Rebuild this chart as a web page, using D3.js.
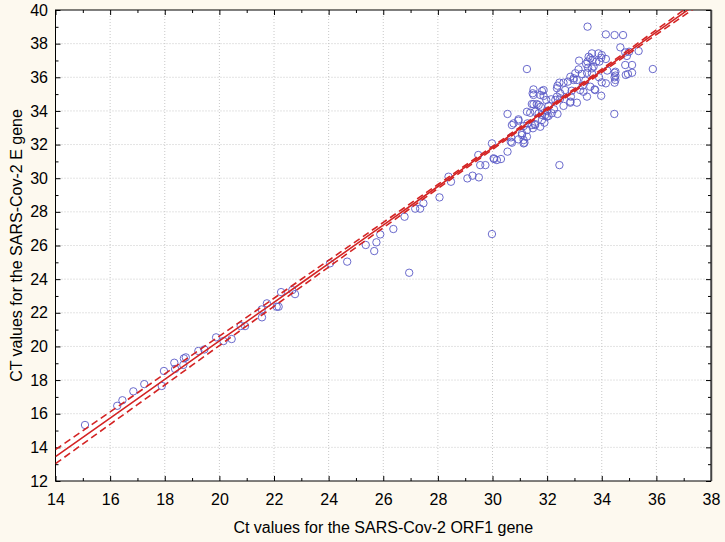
<!DOCTYPE html>
<html>
<head>
<meta charset="utf-8">
<script src="https://cdn.jsdelivr.net/npm/d3@7"></script>
<style>
  body { margin: 0; background: #fdf9ef; }
  text { font-family: "Liberation Sans", Arial, sans-serif; fill: #000; }
</style>
</head>
<body>
<svg id="chart"></svg>
<script>
var width = 725;
var height = 542;

var margin = {
    top: 10,
    right: 14,
    bottom: 61,
    left: 55.5
};

var chartWidth = width - margin.left - margin.right;
var chartHeight = height - margin.top - margin.bottom;

// axis ticks
var xTicks = [14, 16, 18, 20, 22, 24, 26, 28, 30, 32, 34, 36, 38];
var yTicks = [12, 14, 16, 18, 20, 22, 24, 26, 28, 30, 32, 34, 36, 38, 40];

// Ct values, ORF1 gene (x) and E gene (y)
var orf1 = [15.08, 16.26, 16.45, 16.85, 17.25, 17.89, 17.97, 18.35, 18.38, 18.7, 18.77, 18.68, 19.23, 19.45, 19.88,
    20.15, 20.45, 20.78, 20.94, 21.56, 21.55, 21.74, 22.1, 22.17, 22.26, 22.67, 22.77, 24.05, 24.68, 25.36,
    25.67, 25.75, 25.89, 26.37, 26.95, 26.78, 27.17, 27.35, 27.47, 28.06, 28.39, 28.48, 29.08, 29.27, 29.5,
    29.48, 29.55, 29.74, 29.98, 30.06, 30.16, 30.31, 30.55, 32.45, 29.98, 30.04,
    30.55, 30.67, 30.68, 30.71, 30.77, 30.95, 31.08, 31.17, 31.26, 31.26, 31.44, 31.48, 31.56, 31.69, 31.75,
    31.81, 31.93, 32.05, 32.38, 32.85, 33.09, 34.46, 33.48, 34.15, 34.47, 34.78, 34.68, 35.35, 31.26, 35.87,
    34.86, 35.11, 34.88, 35.11, 34.47, 34.47, 34.47, 34.15, 33.98, 33.74, 33.64, 33.88, 34.0, 33.58, 33.8,
    33.91, 33.17, 33.43, 33.15, 33.27, 33.46, 33.64, 33.03, 32.85, 32.97, 33.09, 32.76, 32.6, 32.45, 32.36,
    32.15, 31.97, 31.5, 31.5, 31.87, 31.87, 31.62, 31.5, 31.77, 32.05, 32.3, 32.48, 32.85, 32.87, 33.21,
    33.33, 33.46, 33.58, 30.95, 31.08, 31.14, 34.92, 35.0, 34.86, 34.96, 34.5, 34.5, 34.5, 33.76, 33.98,
    33.66, 33.7, 34.15, 33.5, 33.64, 31.47, 31.81, 32.38, 32.97, 33.48, 33.52, 32.66, 31.69, 31.75, 32.36,
    32.48, 31.38, 31.56, 31.81, 31.99, 32.17, 31.56, 31.44, 31.26, 31.14, 30.95, 30.71, 31.28, 31.14,
    32.25, 32.6, 32.9, 33.3, 33.9, 34.2, 32.0, 31.9, 33.4, 34.0];

var eGene = [15.33, 16.47, 16.8, 17.33, 17.76, 17.65, 18.54, 19.03, 18.66, 19.29, 19.35, 18.9, 19.73, 19.82, 20.54,
    20.32, 20.44, 21.21, 21.21, 21.73, 22.2, 22.56, 22.36, 22.36, 23.23, 23.35, 23.11, 24.94, 25.04, 26.03,
    25.67, 26.19, 26.66, 26.98, 24.38, 27.71, 28.19, 28.19, 28.51, 28.86, 30.09, 29.79, 29.99, 30.15, 30.05,
    31.38, 30.78, 30.78, 26.68, 31.14, 31.08, 31.14, 31.58, 30.78, 32.07, 31.18,
    33.82, 32.17, 32.43, 33.16, 33.26, 33.42, 32.67, 32.11, 32.47, 33.95, 34.41, 32.97, 33.22, 33.86, 33.06,
    33.46, 33.76, 33.7, 33.82, 34.49, 34.49, 33.82, 39.01, 38.55, 38.51, 38.51, 37.78, 37.56, 36.49, 36.49,
    36.73, 36.73, 36.14, 36.27, 36.27, 36.0, 35.68, 35.64, 34.9, 35.28, 37.42, 37.42, 37.32, 37.13, 36.93,
    36.93, 36.99, 36.79, 36.47, 36.2, 36.27, 36.53, 36.24, 36.03, 35.84, 35.84, 35.74, 35.68, 35.68, 35.35,
    34.69, 34.65, 35.28, 34.95, 35.24, 34.89, 34.41, 34.4, 34.25, 34.29, 34.65, 34.75, 34.55, 34.85, 35.24,
    35.14, 34.85, 35.44, 33.5, 32.57, 32.07, 37.27, 37.52, 37.48, 36.2, 36.33, 36.1, 35.84, 35.24, 37.16,
    37.03, 36.63, 37.09, 36.57, 36.24, 35.05, 35.18, 35.5, 35.94, 36.93, 37.22, 35.24, 34.35, 34.95, 34.85,
    35.05, 33.89, 33.95, 33.76, 33.66, 33.86, 33.16, 33.16, 32.86, 32.27, 32.31, 32.11, 33.26, 33.1,
    34.1, 34.3, 35.2, 35.5, 36.0, 36.4, 34.0, 33.3, 35.8, 35.7];

// regression line and 95% band
var fitIntercept = -2.61;
var fitSlope = 1.147;
var bandX = [14, 16, 18, 20, 22, 24, 26, 28, 30, 32, 34, 36, 38];
var bandHalf = [0.42, 0.37, 0.33, 0.28, 0.24, 0.2, 0.16, 0.12, 0.09, 0.08, 0.1, 0.14, 0.2];

var points = orf1.map(function(d, i) {
    return { x: d, y: eGene[i] };
});

var svg = d3.select("#chart")
    .attr("width", width)
    .attr("height", height);

svg.append("rect")
    .attr("width", width)
    .attr("height", height)
    .attr("fill", "#fdf9ef");

var xScale = d3.scaleLinear()
    .domain([14, 38])
    .range([0, chartWidth]);

var yScale = d3.scaleLinear()
    .domain([12, 40])
    .range([chartHeight, 0]);

var g = svg.append("g")
    .attr("transform", "translate(" + margin.left + "," + margin.top + ")");

g.append("rect")
    .attr("width", chartWidth)
    .attr("height", chartHeight)
    .attr("fill", "white");

g.append("clipPath")
    .attr("id", "plotClip")
    .append("rect")
    .attr("width", chartWidth)
    .attr("height", chartHeight);

// grid
g.append("g").selectAll("line")
    .data(xTicks.slice(1, -1))
    .enter().append("line")
    .attr("x1", xScale).attr("x2", xScale)
    .attr("y1", 0).attr("y2", chartHeight)
    .attr("stroke", "#c8c8c8")
    .attr("stroke-dasharray", "1,2");

g.append("g").selectAll("line")
    .data(yTicks.slice(1, -1))
    .enter().append("line")
    .attr("y1", yScale).attr("y2", yScale)
    .attr("x1", 0).attr("x2", chartWidth)
    .attr("stroke", "#c8c8c8")
    .attr("stroke-dasharray", "1,2");

// ticks point inwards; minor ticks every unit
var xMinor = d3.range(15, 38, 2);
var yMinor = d3.range(13, 40, 2);

function drawAxis(axis, pos, major, minor, pad) {
    var minorG = g.append("g")
        .attr("transform", pos)
        .call(axis.tickValues(minor).tickSize(-3).tickFormat(""));
    minorG.select(".domain").remove();

    var majorG = g.append("g")
        .attr("transform", pos)
        .call(axis.tickValues(major).tickSize(-5).tickPadding(pad)
            .tickFormat(pad ? d3.format("d") : ""));
    majorG.select(".domain").remove();
    majorG.selectAll("text")
        .style("font-size", "16px")
        .attr("fill", "#000");
}

drawAxis(d3.axisBottom(xScale), "translate(0," + chartHeight + ")", xTicks, xMinor, 12.5);
drawAxis(d3.axisTop(xScale), "translate(0,0)", xTicks, xMinor, 0);
drawAxis(d3.axisLeft(yScale), "translate(0,0)", yTicks, yMinor, 7.5);
drawAxis(d3.axisRight(yScale), "translate(" + chartWidth + ",0)", yTicks, yMinor, 0);

g.append("rect")
    .attr("width", chartWidth)
    .attr("height", chartHeight)
    .attr("fill", "none")
    .attr("stroke", "#000")
    .attr("stroke-width", 1);

g.append("line")
    .attr("x1", chartWidth + 0.5).attr("x2", chartWidth + 0.5)
    .attr("y1", 0).attr("y2", chartHeight)
    .attr("stroke", "#444")
    .attr("stroke-width", 1.5);

// points
g.append("g").selectAll("circle")
    .data(points)
    .enter().append("circle")
    .attr("cx", function(d) { return xScale(d.x); })
    .attr("cy", function(d) { return yScale(d.y); })
    .attr("r", 3.7)
    .attr("fill", "none")
    .attr("stroke", "#5a5ac6")
    .attr("stroke-width", 0.9);

// regression line and confidence band
var fit = function(x) { return fitIntercept + fitSlope * x; };

var fitLine = d3.line()
    .x(function(d) { return xScale(d.x); })
    .y(function(d) { return yScale(d.y); })
    .curve(d3.curveMonotoneX);

var lines = g.append("g").attr("clip-path", "url(#plotClip)");

var bands = [
    { off: 0, dash: null },
    { off: 1, dash: "7,4" },
    { off: -1, dash: "7,4" }
];

bands.forEach(function(b) {
    lines.append("path")
        .datum(bandX.map(function(x, i) {
            return { x: x, y: fit(x) + b.off * bandHalf[i] };
        }))
        .attr("d", fitLine)
        .attr("fill", "none")
        .attr("stroke", "#d42424")
        .attr("stroke-width", 1.6)
        .attr("stroke-dasharray", b.dash);
});

// axis titles
svg.append("text")
    .attr("x", margin.left + chartWidth / 2)
    .attr("y", 533)
    .attr("text-anchor", "middle")
    .style("font-size", "16px")
    .text("Ct values for the SARS-Cov-2 ORF1 gene");

svg.append("text")
    .attr("transform", "translate(22," + (margin.top + chartHeight / 2) + ") rotate(-90)")
    .attr("text-anchor", "middle")
    .style("font-size", "16px")
    .text("CT values for the SARS-Cov-2 E gene");
</script>
</body>
</html>
